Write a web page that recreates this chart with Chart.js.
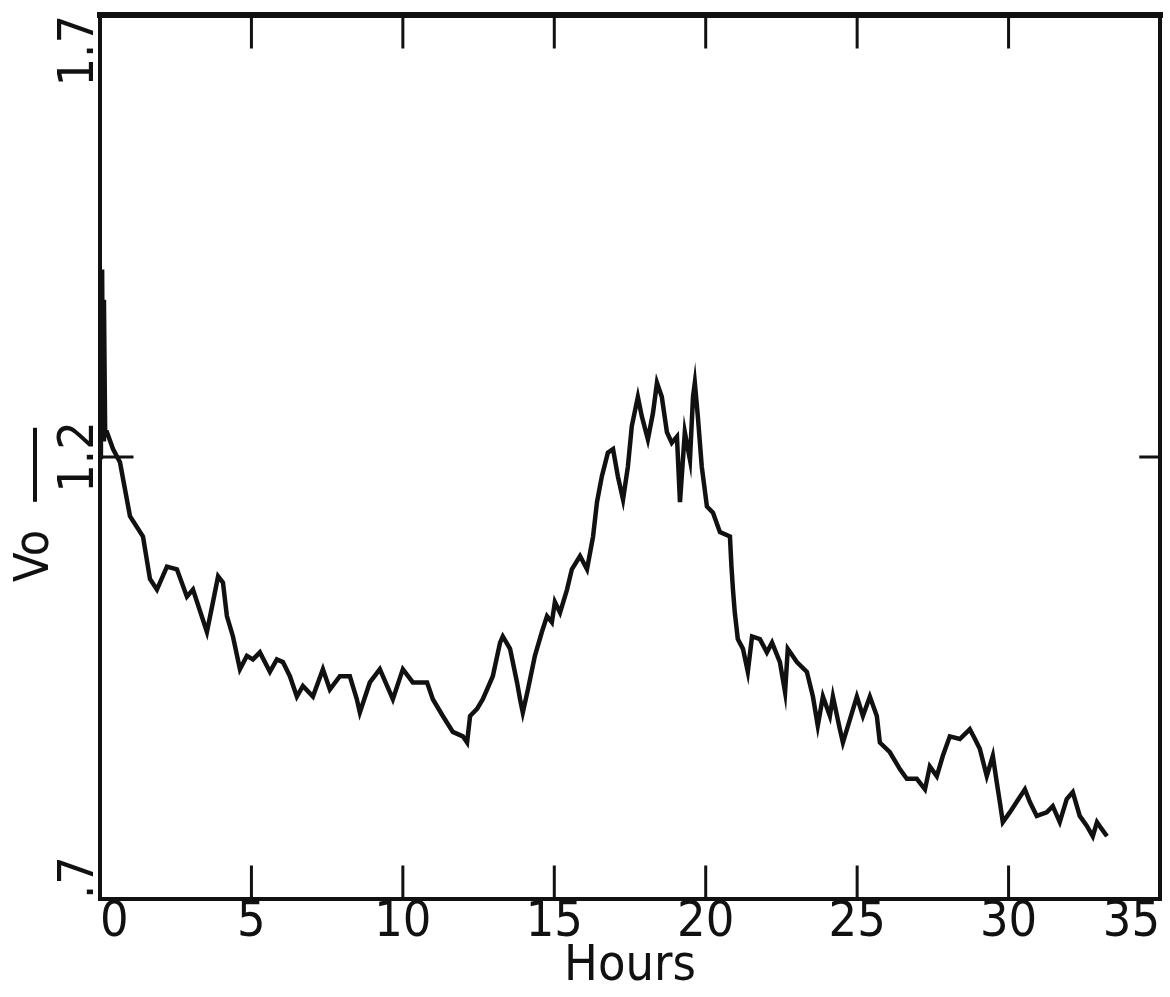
<!DOCTYPE html>
<html>
<head>
<meta charset="utf-8">
<script src="https://cdn.jsdelivr.net/npm/chart.js@4.4.1/dist/chart.umd.min.js"></script>
<style>
  html, body { margin: 0; padding: 0; background: #fff; }
  #wrap { width: 1170px; height: 997px; }
</style>
</head>
<body>
<div id="wrap"><canvas id="chart"></canvas></div>
<script>
// trace (hours, Vo ratio)
const hours = [
  0, 0.03, 0.07, 0.10, 0.13, 0.17, 0.23, 0.43, 0.66, 0.99,
  1.42, 1.65, 1.88, 2.21, 2.54, 2.87, 3.07, 3.53, 3.73, 3.90,
  4.06, 4.19, 4.39, 4.62, 4.85, 5.05, 5.28, 5.61, 5.84, 6.04,
  6.27, 6.50, 6.70, 7.03, 7.36, 7.59, 7.92, 8.25, 8.48, 8.58,
  8.91, 9.24, 9.67, 10.00, 10.33, 10.80, 10.99, 11.32, 11.65, 11.98,
  12.12, 12.22, 12.45, 12.64, 12.97, 13.21, 13.30, 13.54, 13.77, 13.87,
  13.96, 14.13, 14.36, 14.59, 14.76, 14.92, 15.02, 15.19, 15.42, 15.58,
  15.85, 16.08, 16.28, 16.41, 16.57, 16.77, 16.94, 17.10, 17.27, 17.43,
  17.56, 17.76, 17.89, 18.09, 18.26, 18.39, 18.55, 18.72, 18.88, 19.05,
  19.15, 19.31, 19.48, 19.58, 19.64, 19.74, 19.87, 20.04, 20.24, 20.47,
  20.80, 20.85, 20.90, 20.96, 21.06, 21.23, 21.39, 21.53, 21.79, 22.02,
  22.19, 22.45, 22.62, 22.71, 23.01, 23.34, 23.54, 23.70, 23.87, 24.10,
  24.20, 24.43, 24.53, 24.76, 24.99, 25.19, 25.42, 25.65, 25.75, 26.08,
  26.41, 26.64, 26.97, 27.24, 27.40, 27.63, 27.83, 28.06, 28.39, 28.72,
  28.89, 29.05, 29.28, 29.48, 29.61, 29.71, 29.81, 30.04, 30.27, 30.54,
  30.70, 30.93, 31.26, 31.46, 31.69, 31.92, 32.12, 32.35, 32.58, 32.78,
  32.92, 33.08, 33.25
];
const vo = [
  1.200, 1.378, 1.412, 1.220, 1.378, 1.228, 1.228, 1.209, 1.194, 1.133,
  1.110, 1.062, 1.050, 1.076, 1.073, 1.042, 1.050, 1.002, 1.036, 1.065,
  1.058, 1.020, 0.997, 0.960, 0.975, 0.971, 0.979, 0.957, 0.971, 0.968,
  0.952, 0.929, 0.941, 0.929, 0.960, 0.937, 0.952, 0.952, 0.926, 0.911,
  0.945, 0.960, 0.926, 0.960, 0.945, 0.945, 0.926, 0.907, 0.889, 0.884,
  0.877, 0.907, 0.915, 0.926, 0.952, 0.990, 0.997, 0.983, 0.945, 0.926,
  0.911, 0.937, 0.975, 1.002, 1.020, 1.013, 1.036, 1.024, 1.050, 1.073,
  1.088, 1.073, 1.110, 1.149, 1.178, 1.205, 1.209, 1.178, 1.152, 1.189,
  1.235, 1.268, 1.246, 1.220, 1.250, 1.284, 1.268, 1.228, 1.216, 1.223,
  1.149, 1.228, 1.197, 1.268, 1.284, 1.246, 1.189, 1.144, 1.137, 1.115,
  1.110, 1.076, 1.050, 1.024, 0.994, 0.983, 0.957, 0.997, 0.994, 0.979,
  0.990, 0.968, 0.934, 0.983, 0.968, 0.957, 0.929, 0.896, 0.929, 0.907,
  0.929, 0.892, 0.877, 0.903, 0.929, 0.907, 0.929, 0.907, 0.877, 0.866,
  0.847, 0.836, 0.836, 0.824, 0.850, 0.839, 0.862, 0.884, 0.881, 0.892,
  0.881, 0.870, 0.839, 0.862, 0.832, 0.810, 0.787, 0.798, 0.810, 0.824,
  0.810, 0.794, 0.798, 0.805, 0.787, 0.813, 0.821, 0.794, 0.783, 0.771,
  0.787, 0.779, 0.771
];

const xTicks = [0, 5, 10, 15, 20, 25, 30, 35];
const yTicks = [0.7, 1.2, 1.7];
const yTickLabels = ['.7', '1.2', '1.7'];
const xTitle = 'Hours';
const yTitle = 'Vo';

const FONT = '"Liberation Sans Narrow", "DejaVu Sans Condensed", sans-serif';
const INK = '#111';

// frame, inward tick marks, rotated y labels (old plotter style)
const plotterFrame = {
    id: 'plotterFrame',
    afterDraw(chart) {
        const { ctx, chartArea: a, scales: { x, y } } = chart;
        ctx.save();
        ctx.strokeStyle = INK;
        ctx.lineCap = 'square';

        // box
        ctx.lineWidth = 4;
        ctx.strokeRect(a.left, a.top, a.right - a.left, a.bottom - a.top);
        ctx.lineWidth = 6;
        ctx.beginPath();
        ctx.moveTo(a.left, a.top);
        ctx.lineTo(a.right, a.top);
        ctx.stroke();

        // inward ticks
        ctx.lineWidth = 3;
        const tickLen = 32;
        xTicks.slice(1, -1).forEach(v => {
            const px = x.getPixelForValue(v);
            ctx.beginPath();
            ctx.moveTo(px, a.bottom);
            ctx.lineTo(px, a.bottom - tickLen);
            ctx.moveTo(px, a.top);
            ctx.lineTo(px, a.top + tickLen);
            ctx.stroke();
        });
        yTicks.slice(1, -1).forEach(v => {
            const py = y.getPixelForValue(v);
            ctx.beginPath();
            ctx.moveTo(a.left, py);
            ctx.lineTo(a.left + tickLen, py);
            ctx.moveTo(a.right, py);
            ctx.lineTo(a.right - tickLen * 0.6, py);
            ctx.stroke();
        });

        // y tick labels, rotated to read bottom-up
        ctx.fillStyle = INK;
        ctx.font = '50px ' + FONT;
        ctx.textBaseline = 'alphabetic';
        yTicks.forEach((v, i) => {
            const py = y.getPixelForValue(v);
            ctx.save();
            ctx.translate(a.left - 7, py);
            ctx.rotate(-Math.PI / 2);
            ctx.textAlign = i === 0 ? 'left' : (i === yTicks.length - 1 ? 'right' : 'center');
            ctx.fillText(yTickLabels[i], 0, 0);
            ctx.restore();
        });

        // y title with its bar
        ctx.save();
        ctx.translate(a.left - 52, (a.top + a.bottom) / 2 + 125);
        ctx.rotate(-Math.PI / 2);
        ctx.textAlign = 'left';
        ctx.font = '48px ' + FONT;
        ctx.fillText(yTitle, 0, 0);
        const w = ctx.measureText(yTitle).width;
        ctx.lineWidth = 4;
        ctx.beginPath();
        ctx.moveTo(w + 30, -13);
        ctx.lineTo(w + 100, -13);
        ctx.stroke();
        ctx.restore();

        ctx.restore();
    }
};

new Chart(document.getElementById('chart'), {
    type: 'line',
    data: {
        datasets: [{
            data: hours.map((h, i) => ({ x: h, y: vo[i] })),
            borderColor: INK,
            borderWidth: 4.5,
            pointRadius: 0,
            tension: 0,
            fill: false
        }]
    },
    options: {
        responsive: true,
        maintainAspectRatio: false,
        animation: false,
        layout: {
            padding: { left: 100, top: 15, right: 10, bottom: 10 }
        },
        plugins: {
            legend: { display: false },
            tooltip: { enabled: false }
        },
        scales: {
            x: {
                type: 'linear',
                min: 0,
                max: 35,
                afterBuildTicks: axis => {
                    axis.ticks = xTicks.map(v => ({ value: v }));
                },
                grid: { display: false, drawTicks: false },
                border: { display: false },
                ticks: {
                    align: 'inner',
                    padding: 4,
                    color: INK,
                    font: { family: FONT, size: 50, lineHeight: 0.8 },
                    callback: v => String(v)
                },
                title: {
                    display: true,
                    text: xTitle,
                    color: INK,
                    padding: { top: 0, bottom: 0 },
                    font: { family: FONT, size: 50, lineHeight: 0.8 }
                }
            },
            y: {
                display: false,
                min: 0.7,
                max: 1.7
            }
        }
    },
    plugins: [plotterFrame]
});
</script>
</body>
</html>
